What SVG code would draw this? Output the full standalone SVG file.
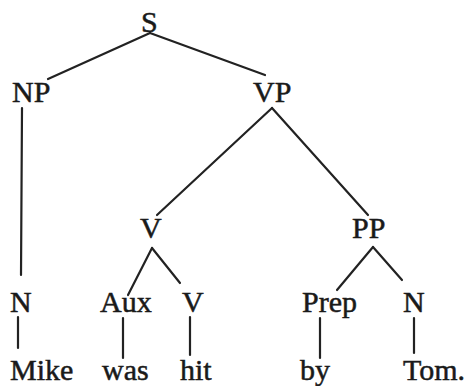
<svg xmlns="http://www.w3.org/2000/svg" width="469" height="386" viewBox="0 0 469 386">
<style>
text{font-family:"Liberation Serif","Times New Roman",serif;font-size:30px;fill:#1a1a1a;stroke:#1a1a1a;stroke-width:0.5}
.e line{stroke:#222;stroke-width:2.2;stroke-linecap:round}
</style>
<rect width="469" height="386" fill="#fff"/>
<g class="e" id="connectors">
<line x1="150" y1="33" x2="48" y2="79"/>
<line x1="150" y1="33" x2="265" y2="75"/>
<line x1="22" y1="108" x2="21" y2="275"/>
<line x1="272" y1="108" x2="157" y2="215"/>
<line x1="272" y1="108" x2="368" y2="215"/>
<line x1="152" y1="248" x2="128" y2="295"/>
<line x1="152" y1="248" x2="180" y2="283"/>
<line x1="373" y1="247" x2="337" y2="290"/>
<line x1="373" y1="247" x2="402" y2="280"/>
<line x1="18" y1="317" x2="18" y2="348"/>
<line x1="123" y1="318" x2="123" y2="358"/>
<line x1="190" y1="317" x2="190" y2="355"/>
<line x1="320" y1="318" x2="320" y2="358"/>
<line x1="414" y1="318" x2="414" y2="353"/>
</g>
<g id="S"><text x="141" y="32">S</text></g>
<g id="NP"><text x="12" y="102">NP</text></g>
<g id="VP"><text x="253" y="102">VP</text></g>
<g id="V1"><text x="140" y="238">V</text></g>
<g id="PP"><text x="352" y="238">PP</text></g>
<g id="N1"><text x="10" y="312">N</text></g>
<g id="Aux"><text x="100" y="312">Aux</text></g>
<g id="V2"><text x="182" y="312">V</text></g>
<g id="Prep"><text x="302" y="312">Prep</text></g>
<g id="N2"><text x="403" y="312">N</text></g>
<g id="Mike"><text x="10" y="380">Mike</text></g>
<g id="was"><text x="102" y="380">was</text></g>
<g id="hit"><text x="180" y="380">hit</text></g>
<g id="by"><text x="300" y="380">by</text></g>
<g id="Tom"><text x="403" y="380">Tom.</text></g>
</svg>
